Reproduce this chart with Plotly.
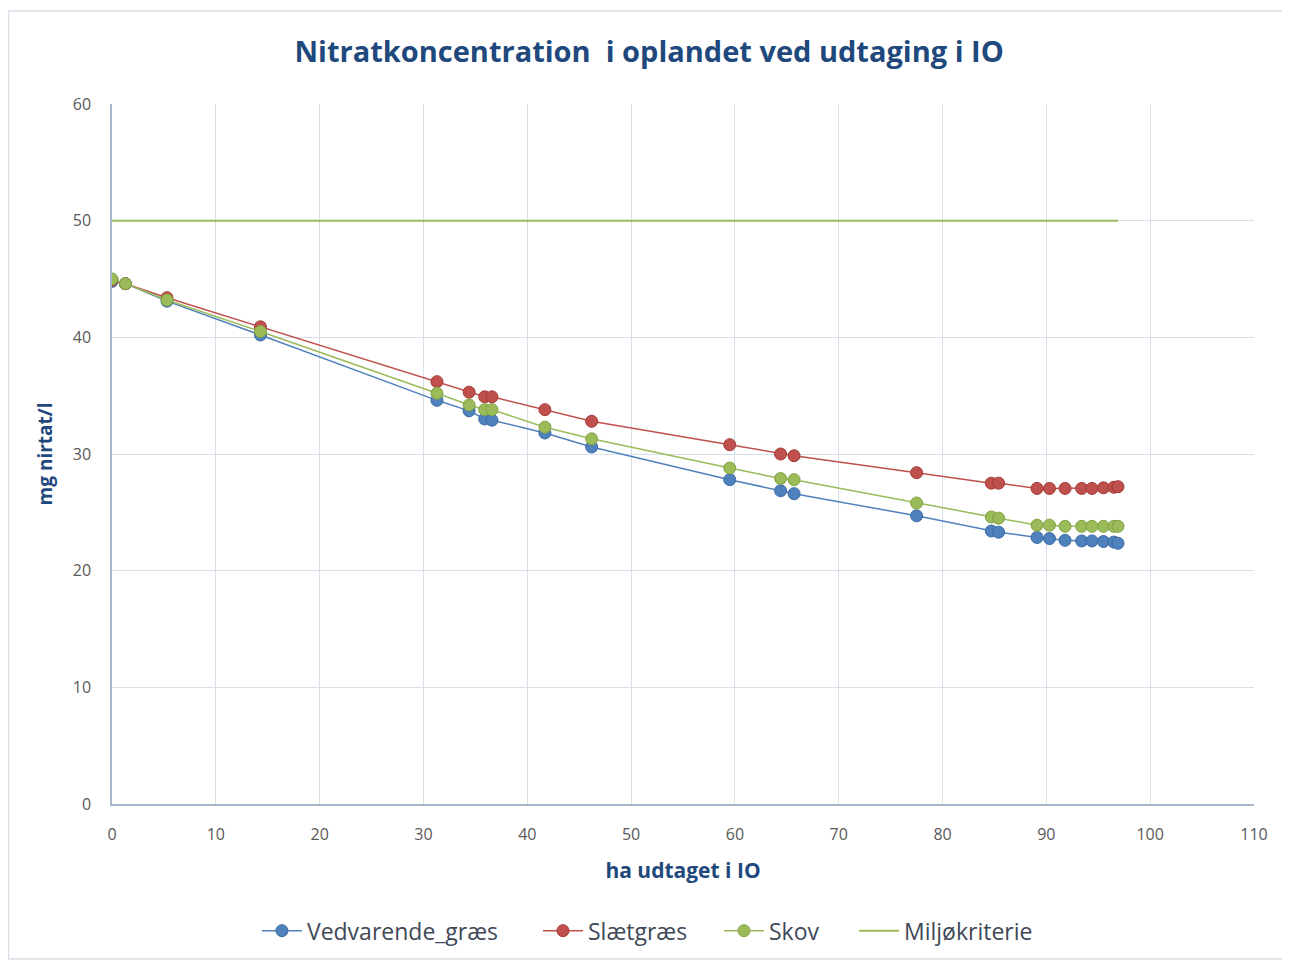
import plotly.graph_objects as go

# ---- data ----
x_ha = [0, 1.3, 5.3, 14.3, 31.3, 34.4, 35.9, 36.6, 41.7, 46.2, 59.5, 64.4, 65.7,
        77.5, 84.7, 85.4, 89.1, 90.3, 91.8, 93.4, 94.4, 95.5, 96.5, 96.9]
vedvarende_graes = [44.8, 44.6, 43.1, 40.2, 34.6, 33.7, 33.0, 32.9, 31.8, 30.6, 27.8, 26.85, 26.6,
                    24.7, 23.4, 23.3, 22.85, 22.75, 22.6, 22.55, 22.55, 22.5, 22.45, 22.35]
slaetgraes = [44.9, 44.6, 43.4, 40.9, 36.2, 35.3, 34.9, 34.9, 33.8, 32.8, 30.8, 30.0, 29.85,
              28.4, 27.5, 27.5, 27.05, 27.05, 27.05, 27.05, 27.05, 27.1, 27.15, 27.2]
skov = [45.0, 44.6, 43.2, 40.5, 35.2, 34.2, 33.8, 33.8, 32.3, 31.3, 28.8, 27.9, 27.8,
        25.8, 24.6, 24.5, 23.9, 23.9, 23.8, 23.8, 23.8, 23.8, 23.8, 23.8]
miljo_x = [0, 96.9]
miljo_y = [50, 50]

x_ticks = [0, 10, 20, 30, 40, 50, 60, 70, 80, 90, 100, 110]
y_ticks = [0, 10, 20, 30, 40, 50, 60]

BLUE = "#4F81BD"
RED = "#C0504D"
GREEN = "#9BBB59"
DARK = "#1F497D"
FONT = "Open Sans"

fig = go.Figure()

def add_series(name, y, color, edge, legend):
    fig.add_trace(go.Scatter(
        x=x_ha, y=y, name=name, mode="lines+markers", legend=legend, showlegend=True,
        line=dict(color=color, width=1.5),
        marker=dict(size=12, color=color, line=dict(color=edge, width=1)),
    ))

add_series("Vedvarende_græs", vedvarende_graes, BLUE, "#3A6AA6", "legend")
add_series("Slætgræs", slaetgraes, RED, "#A33A37", "legend2")
add_series("Skov", skov, GREEN, "#82A244", "legend3")
fig.add_trace(go.Scatter(
    x=miljo_x, y=miljo_y, name="Miljøkriterie", mode="lines", legend="legend4", showlegend=True,
    line=dict(color=GREEN, width=2),
))

def leg(x):
    return dict(orientation="h", x=x, xanchor="left", y=-0.181, yanchor="middle",
                font=dict(family=FONT, size=23, color="#404858"),
                itemwidth=40, bgcolor="rgba(0,0,0,0)")

grid = "#D6DFEA"
fig.update_layout(
    width=1290, height=962, showlegend=True,
    paper_bgcolor="white", plot_bgcolor="white",
    margin=dict(l=104, r=44, t=96, b=166),
    title=dict(text="<b>Nitratkoncentration  i oplandet ved udtaging i IO</b>",
               x=0.497, xanchor="center", y=0.954, yanchor="middle",
               font=dict(family=FONT, size=29, color=DARK)),
    xaxis=dict(range=[0, 110], tickvals=x_ticks, showgrid=True, gridcolor=grid, gridwidth=1,
               showline=True, linecolor="#A8B8CC", linewidth=1.5, zeroline=False,
               tickfont=dict(family=FONT, size=16, color="#595959"),
               ticklabelstandoff=15,
               title=dict(text="<b>ha udtaget i IO</b>", standoff=19,
                          font=dict(family=FONT, size=21, color=DARK))),
    yaxis=dict(range=[0, 60], tickvals=y_ticks, showgrid=True, gridcolor=grid, gridwidth=1,
               showline=True, linecolor="#A8B8CC", linewidth=1.5, zeroline=False,
               tickfont=dict(family=FONT, size=16, color="#595959"),
               ticklabelstandoff=16,
               title=dict(text="<b>mg nirtat/l</b>", standoff=15,
                          font=dict(family=FONT, size=19, color=DARK))),
    legend=leg(0.1269),
    legend2=leg(0.3730),
    legend3=leg(0.5315),
    legend4=leg(0.6497),
    shapes=[dict(type="rect", xref="paper", yref="paper",
                 x0=-0.0906, x1=1.0289, y0=-0.2214, y1=1.133,
                 line=dict(color="#D9DEE6", width=1.5), fillcolor="rgba(0,0,0,0)", layer="below")],
)

fig.write_html("out.html")
